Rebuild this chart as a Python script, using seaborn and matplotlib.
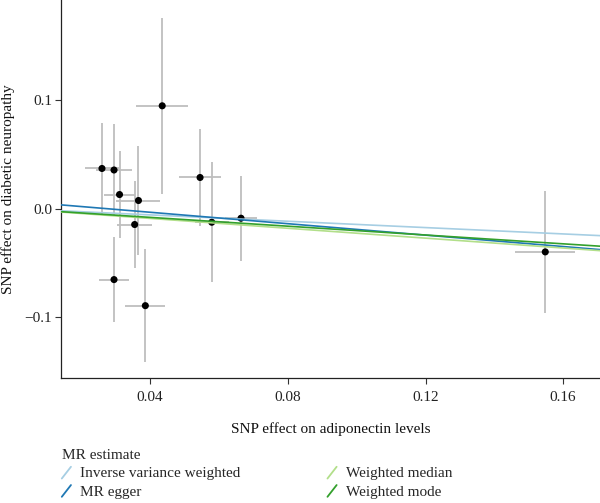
import numpy as np
import pandas as pd
import matplotlib
matplotlib.use("Agg")
import matplotlib.pyplot as plt
from matplotlib.lines import Line2D
from matplotlib.legend_handler import HandlerBase
import seaborn as sns

# SNP effects
beta_exp = [0.0260, 0.0295, 0.0311, 0.0366, 0.0355, 0.0435, 0.0545, 0.0579, 0.0664, 0.0295, 0.0386, 0.1548]
se_exp = [0.0050, 0.0052, 0.0044, 0.0064, 0.0050, 0.0076, 0.0060, 0.0050, 0.0046, 0.0044, 0.0058, 0.0087]
beta_out = [0.0369, 0.0355, 0.0129, 0.0074, -0.0147, 0.0946, 0.0286, -0.0126, -0.0089, -0.0654, -0.0894, -0.0399]
se_out = [0.042, 0.042, 0.040, 0.050, 0.040, 0.081, 0.045, 0.055, 0.039, 0.039, 0.052, 0.056]

methods = ["Inverse variance weighted", "MR egger", "Weighted median", "Weighted mode"]
slopes = [-0.146, -0.263, -0.227, -0.203]
intercepts = [0.0, 0.0071, 0.0, 0.0]

xticks = [0.04, 0.08, 0.12, 0.16]
xticklabels = ["0.04", "0.08", "0.12", "0.16"]
yticks = [-0.1, 0.0, 0.1]
yticklabels = ["\u22120.1", "0.0", "0.1"]

df = pd.DataFrame({"x": beta_exp, "y": beta_out, "sx": se_exp, "sy": se_out})


class HandlerDiag(HandlerBase):
    # ggplot style abline key: a short diagonal stroke
    def create_artists(self, legend, orig_handle, xdescent, ydescent,
                       width, height, fontsize, trans):
        x0 = -xdescent
        y0 = -ydescent
        ln = Line2D([x0, x0 + width],
                    [y0 - 0.1 * height, y0 + 1.0 * height],
                    color=orig_handle.get_color(), lw=1.3)
        ln.set_transform(trans)
        return [ln]


sns.set_theme(style="white")
plt.rcParams["font.family"] = ["Liberation Serif", "DejaVu Serif"]

fig = plt.figure(figsize=(6, 5.03), dpi=100)
ax = fig.add_axes([0.1017, 0.2485, 0.8983, 0.7515])

ax.errorbar(df["x"], df["y"], xerr=df["sx"], yerr=df["sy"], fmt="none",
            ecolor="#bebebe", elinewidth=1.3, capsize=0, zorder=1)
sns.scatterplot(data=df, x="x", y="y", ax=ax, color="black", s=26,
                edgecolor="none", zorder=3)

cols = sns.color_palette("Paired", 4)
handles = []
for m, b, a, c in zip(methods, slopes, intercepts, cols):
    ax.axline((0, a), slope=b, color=c, lw=1.2, zorder=4)
    handles.append(Line2D([], [], color=c, label=m))

ax.set_xlim(0.0141, 0.1707)
ax.set_ylim(-0.156, 0.192)
ax.set_xticks(xticks)
ax.set_xticklabels(xticklabels)
ax.set_yticks(yticks)
ax.set_yticklabels(yticklabels)
ax.tick_params(axis="both", which="major", direction="out", length=4,
               width=0.8, color="#333333", labelsize=11,
               bottom=True, left=True, labelcolor="#222222")
ax.tick_params(axis="x", pad=5.5)
ax.tick_params(axis="y", pad=2.5)

for s in ["top", "right"]:
    ax.spines[s].set_visible(False)
for s in ["left", "bottom"]:
    ax.spines[s].set_color("#222222")
    ax.spines[s].set_linewidth(0.9)

ax.set_xlabel("SNP effect on adiponectin levels", fontsize=11, labelpad=13, color="#111111")
ax.set_ylabel("SNP effect on diabetic neuropathy", fontsize=11, labelpad=7, color="#111111")

leg = fig.legend(handles=handles, loc="upper left", bbox_to_anchor=(0.103, 0.107),
                 ncol=2, title="MR estimate", frameon=False, fontsize=11,
                 title_fontsize=11, alignment="left", handlelength=0.6,
                 handleheight=0.7, handletextpad=0.6, columnspacing=5.7,
                 labelspacing=0.3, borderpad=0, borderaxespad=0,
                 handler_map={Line2D: HandlerDiag()})

fig.savefig("out.png", dpi=100)
